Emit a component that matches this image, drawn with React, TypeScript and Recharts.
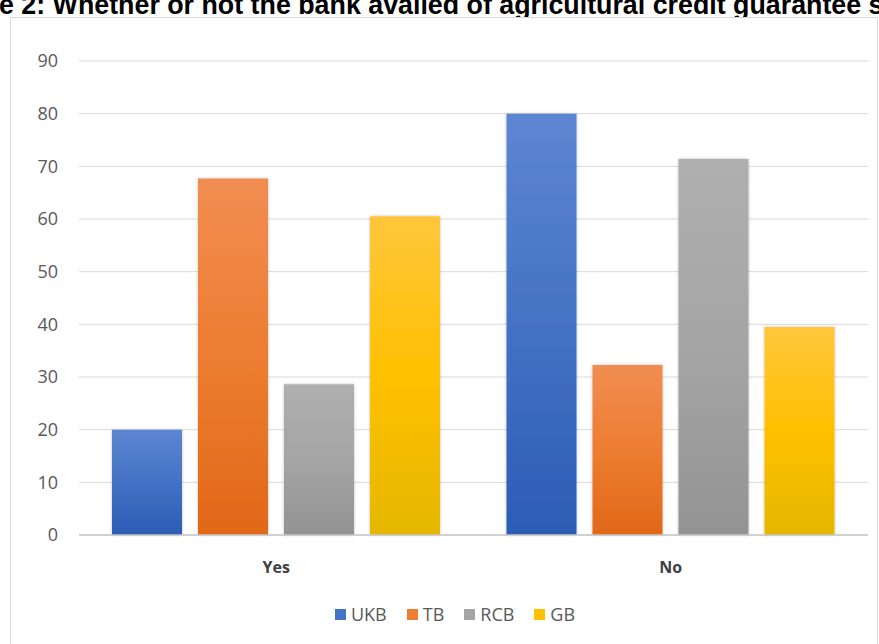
import { BarChart, Bar, XAxis, YAxis, CartesianGrid, Legend } from 'recharts';

// values (Yes + No = 100 for each bank)
const categories = ['Yes', 'No'];
const seriesNames = ['UKB', 'TB', 'RCB', 'GB'];
const ukbValues = [20, 80];
const tbValues = [67.7, 32.3];
const rcbValues = [28.6, 71.4];
const gbValues = [60.5, 39.5];
const yTicks = [0, 10, 20, 30, 40, 50, 60, 70, 80, 90];

const seriesColors = ['#4472C4', '#ED7D31', '#A5A5A5', '#FFC000'];
const gradientTops = ['#5D86D2', '#F18D52', '#AFAFAF', '#FFC63C'];
const gradientBottoms = ['#2C5CB5', '#E06818', '#939393', '#E5B700'];

const data = categories.map((name, i) => ({
  name,
  UKB: ukbValues[i],
  TB: tbValues[i],
  RCB: rcbValues[i],
  GB: gbValues[i],
}));

const font = '"Open Sans", "Liberation Sans", sans-serif';

function LegendContent() {
  return (
    <div
      style={{
        display: 'flex',
        justifyContent: 'center',
        alignItems: 'center',
        gap: 20,
        fontFamily: font,
        fontSize: 18,
        color: '#595959',
        lineHeight: '22px',
      }}
    >
      {seriesNames.map((n, i) => (
        <span key={n} style={{ display: 'flex', alignItems: 'center' }}>
          <span
            style={{
              display: 'inline-block',
              width: 11,
              height: 11,
              background: seriesColors[i],
              marginRight: 5,
            }}
          />
          {n}
        </span>
      ))}
    </div>
  );
}

export default function App() {
  return (
    <div
      style={{
        position: 'absolute',
        left: 0,
        top: 0,
        width: 879,
        height: 644,
        overflow: 'hidden',
        background: '#fff',
      }}
    >
      <div
        style={{
          position: 'absolute',
          left: -1,
          top: -8,
          fontFamily: '"Liberation Sans", Arial, sans-serif',
          fontWeight: 700,
          fontSize: 26.8,
          lineHeight: '26px',
          whiteSpace: 'nowrap',
          color: '#000',
        }}
      >
        e 2: Whether or not the bank availed of agricultural credit guarantee scheme
      </div>
      <div
        style={{
          position: 'absolute',
          left: 10,
          top: 17,
          width: 868,
          height: 660,
          boxSizing: 'border-box',
          border: '1px solid #D9D9D9',
          background: '#fff',
        }}
      />
      <div style={{ position: 'absolute', left: 0, top: 0 }}>
        <BarChart
          width={879}
          height={644}
          data={data}
          margin={{ top: 61, right: 11, bottom: 79, left: 0 }}
          barSize={70}
          barGap={16}
        >
          <defs>
            {seriesNames.map((n, i) => (
              <linearGradient key={n} id={`grad-${n}`} x1="0" y1="0" x2="0" y2="1">
                <stop offset="0%" stopColor={gradientTops[i]} />
                <stop offset="50%" stopColor={seriesColors[i]} />
                <stop offset="100%" stopColor={gradientBottoms[i]} />
              </linearGradient>
            ))}
            <filter id="barShadow" x="-10%" y="-10%" width="120%" height="120%">
              <feDropShadow dx="0" dy="0" stdDeviation="1.5" floodColor="#000" floodOpacity="0.25" />
            </filter>
          </defs>
          <CartesianGrid vertical={false} stroke="#D9D9D9" strokeWidth={1} />
          <XAxis
            dataKey="name"
            axisLine={{ stroke: '#C8C8C8', strokeWidth: 1.5 }}
            tickLine={false}
            tickMargin={21}
            tick={{ fill: '#404040', fontSize: 16, fontWeight: 700, fontFamily: font }}
          />
          <YAxis
            width={79}
            domain={[0, 90]}
            ticks={yTicks}
            axisLine={false}
            tickLine={false}
            tickMargin={15}
            tick={{ fill: '#595959', fontSize: 18, fontFamily: font }}
          />
          <Legend
            content={<LegendContent />}
            wrapperStyle={{ position: 'absolute', left: 0, top: 603, width: 910, height: 0 }}
          />
          {seriesNames.map((n) => (
            <Bar
              key={n}
              dataKey={n}
              fill={`url(#grad-${n})`}
              filter="url(#barShadow)"
              isAnimationActive={false}
            />
          ))}
        </BarChart>
      </div>
    </div>
  );
}
